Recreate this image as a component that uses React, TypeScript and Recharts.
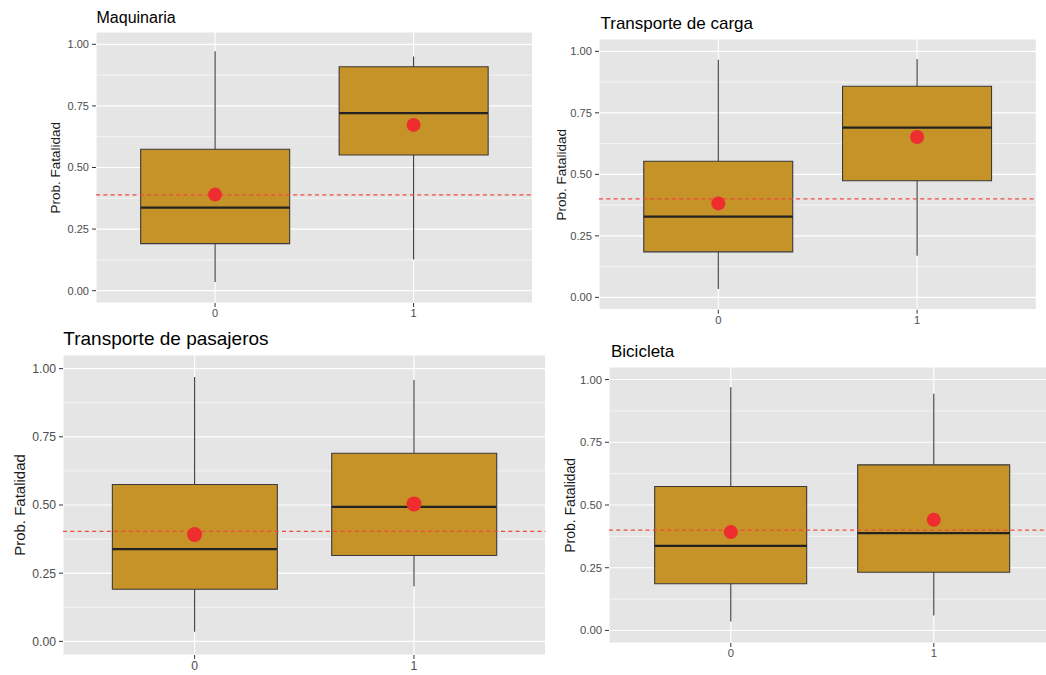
import React from 'react';
import { ComposedChart, Bar, Scatter, XAxis, YAxis, CartesianGrid, ReferenceLine } from 'recharts';

const categories = ['0', '1'];

const yTicks = [0, 0.25, 0.5, 0.75, 1];
const yTickLabels = ['0.00', '0.25', '0.50', '0.75', '1.00'];
const yMinor = [0.125, 0.375, 0.625, 0.875];

// Maquinaria
const maqLower = [0.035, 0.127];
const maqQ1 = [0.191, 0.551];
const maqMedian = [0.337, 0.721];
const maqQ3 = [0.574, 0.909];
const maqUpper = [0.972, 0.951];
const maqMean = [0.39, 0.673];
const maqRef = 0.389;

// Transporte de carga
const cargaLower = [0.034, 0.169];
const cargaQ1 = [0.185, 0.474];
const cargaMedian = [0.328, 0.69];
const cargaQ3 = [0.553, 0.858];
const cargaUpper = [0.966, 0.969];
const cargaMean = [0.382, 0.652];
const cargaRef = 0.4;

// Transporte de pasajeros
const pasLower = [0.035, 0.202];
const pasQ1 = [0.191, 0.315];
const pasMedian = [0.338, 0.493];
const pasQ3 = [0.575, 0.69];
const pasUpper = [0.969, 0.958];
const pasMean = [0.392, 0.504];
const pasRef = 0.403;

// Bicicleta
const biciLower = [0.036, 0.06];
const biciQ1 = [0.186, 0.232];
const biciMedian = [0.337, 0.388];
const biciQ3 = [0.574, 0.66];
const biciUpper = [0.969, 0.943];
const biciMean = [0.392, 0.441];
const biciRef = 0.4;

const BG = '#E5E5E5';
const GOLD = '#C59328';
const BOX_STROKE = '#3A3A3A';
const MED_STROKE = '#222222';
const RED = '#EE2E2E';
const TICK_COL = '#4D4D4D';
const FONT = '"Liberation Sans", Arial, sans-serif';

type PanelProps = {
  title: string;
  lower: number[];
  q1: number[];
  median: number[];
  q3: number[];
  upper: number[];
  mean: number[];
  refValue: number;
  L: number;
  T: number;
  R: number;
  B: number;
  tickFont: number;
  dotR: number;
};

function BoxPanel(p: PanelProps) {
  const data = categories.map((c, i) => ({
    cat: c,
    box: [p.q1[i], p.q3[i]],
    lo: p.lower[i],
    q1: p.q1[i],
    med: p.median[i],
    q3: p.q3[i],
    hi: p.upper[i],
    mean: p.mean[i],
  }));
  const axisW = 64;
  const mTop = 6;
  const mRight = 4;
  const xAxisH = 26;
  const plotW = p.R - p.L;
  const plotH = p.B - p.T;
  const width = axisW + plotW + mRight;
  const height = mTop + plotH + xAxisH;
  const pad = (plotW * (1 - 2 / 2.2)) / 2;
  const halfBox = (0.75 * plotW) / 2.2 / 2;

  const MedianShape = (props: any) => (
    <line
      x1={props.cx - halfBox}
      x2={props.cx + halfBox}
      y1={props.cy}
      y2={props.cy}
      stroke={MED_STROKE}
      strokeWidth={2.2}
    />
  );
  const MeanShape = (props: any) => <circle cx={props.cx} cy={props.cy} r={p.dotR} fill={RED} />;

  return (
    <div style={{ position: 'absolute', left: p.L - axisW, top: p.T - mTop }}>
      <ComposedChart
        width={width}
        height={height}
        data={data}
        margin={{ top: mTop, right: mRight, bottom: 0, left: 0 }}
        barCategoryGap="12.5%"
        style={{ fontFamily: FONT }}
      >
        <CartesianGrid fill={BG} stroke="#FFFFFF" strokeWidth={0.6} vertical={false} horizontalValues={yMinor} />
        <CartesianGrid stroke="#FFFFFF" strokeWidth={1.15} />
        <XAxis
          dataKey="cat"
          type="category"
          axisLine={false}
          tickSize={4}
          tickMargin={2}
          tickLine={{ stroke: '#333333' }}
          tick={{ fill: TICK_COL, fontSize: p.tickFont, fontFamily: FONT }}
          padding={{ left: pad, right: pad }}
          height={xAxisH}
          interval={0}
        />
        <YAxis
          type="number"
          domain={[-0.05, 1.05]}
          ticks={yTicks}
          tickFormatter={(v: number) => yTickLabels[yTicks.indexOf(v)]}
          axisLine={false}
          tickSize={4}
          tickMargin={3}
          tickLine={{ stroke: '#333333' }}
          tick={{ fill: TICK_COL, fontSize: p.tickFont, fontFamily: FONT }}
          width={axisW}
          allowDataOverflow
        />
        {categories.map((c, i) => (
          <ReferenceLine
            key={'wu' + c}
            segment={[
              { x: c, y: p.q3[i] },
              { x: c, y: p.upper[i] },
            ]}
            stroke={BOX_STROKE}
            strokeWidth={1.1}
          />
        ))}
        {categories.map((c, i) => (
          <ReferenceLine
            key={'wl' + c}
            segment={[
              { x: c, y: p.lower[i] },
              { x: c, y: p.q1[i] },
            ]}
            stroke={BOX_STROKE}
            strokeWidth={1.1}
          />
        ))}
        <Bar dataKey="box" fill={GOLD} stroke={BOX_STROKE} strokeWidth={1.1} isAnimationActive={false} />
        <Scatter dataKey="med" shape={MedianShape} isAnimationActive={false} />
        <ReferenceLine y={p.refValue} stroke="#F04A40" strokeWidth={1.3} strokeDasharray="4 3.3" />
        <Scatter dataKey="mean" shape={MeanShape} isAnimationActive={false} />
      </ComposedChart>
    </div>
  );
}

type TextSpec = { text: string; x: number; y: number; size: number };

const panelTitles: TextSpec[] = [
  { text: 'Maquinaria', x: 96.5, y: 22.5, size: 16 },
  { text: 'Transporte de carga', x: 600.5, y: 29.3, size: 17 },
  { text: 'Transporte de pasajeros', x: 63.3, y: 345, size: 19 },
  { text: 'Bicicleta', x: 611, y: 356.7, size: 17 },
];

const yTitles: TextSpec[] = [
  { text: 'Prob. Fatalidad', x: 60, y: 167.8, size: 13.5 },
  { text: 'Prob. Fatalidad', x: 566, y: 174.7, size: 13.5 },
  { text: 'Prob. Fatalidad', x: 25, y: 505, size: 15 },
  { text: 'Prob. Fatalidad', x: 575, y: 505.3, size: 14 },
];

export default function App() {
  return (
    <div
      style={{
        position: 'fixed',
        left: 0,
        top: 0,
        width: 1046,
        height: 675,
        overflow: 'hidden',
        background: '#FFFFFF',
        fontFamily: FONT,
      }}
    >
      <BoxPanel
        title="Maquinaria"
        lower={maqLower}
        q1={maqQ1}
        median={maqMedian}
        q3={maqQ3}
        upper={maqUpper}
        mean={maqMean}
        refValue={maqRef}
        L={96}
        T={32.3}
        R={532.7}
        B={303.3}
        tickFont={11}
        dotR={7}
      />
      <BoxPanel
        title="Transporte de carga"
        lower={cargaLower}
        q1={cargaQ1}
        median={cargaMedian}
        q3={cargaQ3}
        upper={cargaUpper}
        mean={cargaMean}
        refValue={cargaRef}
        L={599.3}
        T={39.3}
        R={1036.7}
        B={310}
        tickFont={11.2}
        dotR={7}
      />
      <BoxPanel
        title="Transporte de pasajeros"
        lower={pasLower}
        q1={pasQ1}
        median={pasMedian}
        q3={pasQ3}
        upper={pasUpper}
        mean={pasMean}
        refValue={pasRef}
        L={62.7}
        T={355}
        R={545.3}
        B={655}
        tickFont={12.2}
        dotR={7.5}
      />
      <BoxPanel
        title="Bicicleta"
        lower={biciLower}
        q1={biciQ1}
        median={biciMedian}
        q3={biciQ3}
        upper={biciUpper}
        mean={biciMean}
        refValue={biciRef}
        L={609.3}
        T={367.3}
        R={1055.9}
        B={643.3}
        tickFont={11.3}
        dotR={7}
      />
      <svg
        width={1046}
        height={675}
        style={{ position: 'absolute', left: 0, top: 0, pointerEvents: 'none' }}
      >
        {panelTitles.map((t) => (
          <text key={t.text} x={t.x} y={t.y} fontSize={t.size} fill="#000000" fontFamily={FONT}>
            {t.text}
          </text>
        ))}
        {yTitles.map((t, i) => (
          <text
            key={'yt' + i}
            x={t.x}
            y={t.y}
            fontSize={t.size}
            fill="#1A1A1A"
            fontFamily={FONT}
            textAnchor="middle"
            transform={`rotate(-90 ${t.x} ${t.y})`}
          >
            {t.text}
          </text>
        ))}
      </svg>
    </div>
  );
}
